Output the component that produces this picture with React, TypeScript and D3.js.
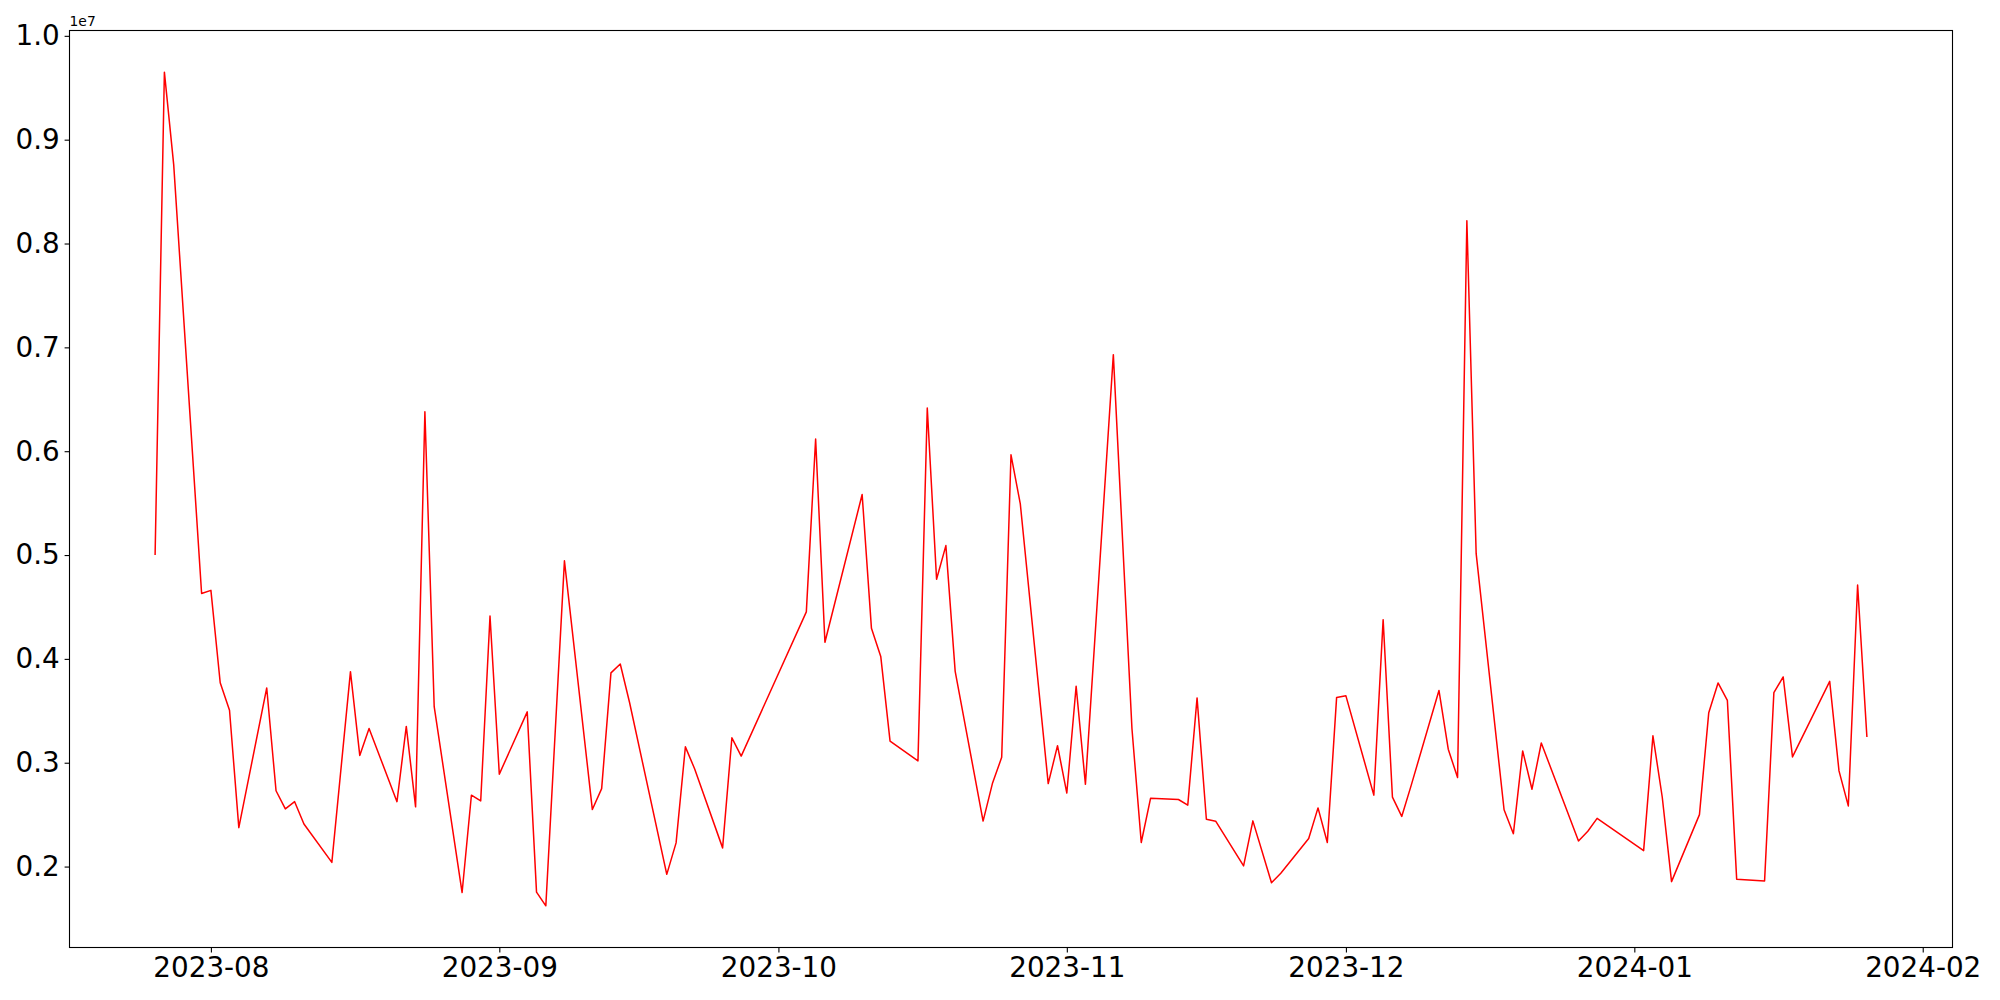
import React, { useEffect, useRef } from 'react';
import * as d3 from 'd3';

const dates = [
  '2023-07-26', '2023-07-27', '2023-07-28', '2023-07-31', '2023-08-01', '2023-08-02', '2023-08-03', '2023-08-04',
  '2023-08-07', '2023-08-08', '2023-08-09', '2023-08-10', '2023-08-11', '2023-08-14', '2023-08-16', '2023-08-17',
  '2023-08-18', '2023-08-21', '2023-08-22', '2023-08-23', '2023-08-24', '2023-08-25', '2023-08-28', '2023-08-29',
  '2023-08-30', '2023-08-31', '2023-09-01', '2023-09-04', '2023-09-05', '2023-09-06', '2023-09-08', '2023-09-11',
  '2023-09-12', '2023-09-13', '2023-09-14', '2023-09-15', '2023-09-19', '2023-09-20', '2023-09-21', '2023-09-22',
  '2023-09-25', '2023-09-26', '2023-09-27', '2023-10-04', '2023-10-05', '2023-10-06', '2023-10-10', '2023-10-11',
  '2023-10-12', '2023-10-13', '2023-10-16', '2023-10-17', '2023-10-18', '2023-10-19', '2023-10-20', '2023-10-23',
  '2023-10-24', '2023-10-25', '2023-10-26', '2023-10-27', '2023-10-30', '2023-10-31', '2023-11-01', '2023-11-02',
  '2023-11-03', '2023-11-06', '2023-11-08', '2023-11-09', '2023-11-10', '2023-11-13', '2023-11-14', '2023-11-15',
  '2023-11-16', '2023-11-17', '2023-11-20', '2023-11-21', '2023-11-23', '2023-11-24', '2023-11-27', '2023-11-28',
  '2023-11-29', '2023-11-30', '2023-12-01', '2023-12-04', '2023-12-05', '2023-12-06', '2023-12-07', '2023-12-08',
  '2023-12-11', '2023-12-12', '2023-12-13', '2023-12-14', '2023-12-15', '2023-12-18', '2023-12-19', '2023-12-20',
  '2023-12-21', '2023-12-22', '2023-12-26', '2023-12-27', '2023-12-28', '2024-01-02', '2024-01-03', '2024-01-04',
  '2024-01-05', '2024-01-08', '2024-01-09', '2024-01-10', '2024-01-11', '2024-01-12', '2024-01-15', '2024-01-16',
  '2024-01-17', '2024-01-18', '2024-01-22', '2024-01-23', '2024-01-24', '2024-01-25', '2024-01-26',
];

// values in millions
const values = [
  5.0, 9.65, 8.76, 4.63, 4.66, 3.77, 3.505, 2.375,
  3.72, 2.73, 2.555, 2.625, 2.41, 2.04, 3.877, 3.07,
  3.33, 2.625, 3.35, 2.575, 6.38, 3.54, 1.75, 2.687,
  2.632, 4.413, 2.89, 3.49, 1.754, 1.622, 4.944, 2.549,
  2.751, 3.865, 3.951, 3.58, 1.925, 2.228, 3.153, 2.94,
  2.18, 3.24, 3.064, 4.453, 6.117, 4.16, 5.583, 4.294,
  4.024, 3.208, 3.018, 6.415, 4.767, 5.091, 3.88, 2.438,
  2.799, 3.052, 5.965, 5.493, 2.799, 3.164, 2.708, 3.737,
  2.792, 6.93, 3.33, 2.232, 2.657, 2.646, 2.592, 3.624,
  2.456, 2.437, 2.007, 2.44, 1.845, 1.935, 2.27, 2.565,
  2.232, 3.629, 3.644, 2.688, 4.378, 2.669, 2.483, 2.777,
  3.696, 3.13, 2.857, 8.22, 5.013, 2.547, 2.317, 3.114,
  2.745, 3.19, 2.247, 2.34, 2.464, 2.153, 3.259, 2.67,
  1.855, 2.5, 3.482, 3.768, 3.601, 1.879, 1.862, 3.675,
  3.826, 3.056, 3.784, 2.921, 2.584, 4.711, 3.248,
];

const yTicks = [0.2, 0.3, 0.4, 0.5, 0.6, 0.7, 0.8, 0.9, 1.0];
const xTickMonths = ['2023-08', '2023-09', '2023-10', '2023-11', '2023-12', '2024-01', '2024-02'];

export default function App() {
  const svgRef = useRef<SVGSVGElement>(null);
  const width = 2000;
  const height = 1000;

  useEffect(() => {
    document.body.style.margin = '0';
    const svg = d3.select(svgRef.current);
    svg.selectAll('*').remove();

    const margin = { top: 30.5, right: 47.5, bottom: 52.5, left: 69.5 };
    const innerWidth = width - margin.left - margin.right;
    const innerHeight = height - margin.top - margin.bottom;

    const parseDate = d3.timeParse('%Y-%m-%d');
    const parseMonth = d3.timeParse('%Y-%m');
    const data = dates.map((d, i) => ({ date: parseDate(d) as Date, value: values[i] * 1e6 }));

    // matplotlib-style 5% margins
    const [x0, x1] = d3.extent(data, d => d.date) as [Date, Date];
    const xPad = (x1.getTime() - x0.getTime()) * 0.05;
    const [y0, y1] = d3.extent(data, d => d.value) as [number, number];
    const yPad = (y1 - y0) * 0.05;

    const xScale = d3.scaleTime()
      .domain([new Date(x0.getTime() - xPad), new Date(x1.getTime() + xPad)])
      .range([0, innerWidth]);

    const yScale = d3.scaleLinear()
      .domain([y0 - yPad, y1 + yPad])
      .range([innerHeight, 0]);

    const g = svg.append('g')
      .attr('transform', `translate(${margin.left},${margin.top})`);

    const line = d3.line<typeof data[0]>()
      .x(d => xScale(d.date))
      .y(d => yScale(d.value));

    g.append('path')
      .datum(data)
      .attr('d', line)
      .style('fill', 'none')
      .style('stroke', '#ff0000')
      .style('stroke-width', 1.5)
      .style('stroke-linejoin', 'round');

    const font = '"DejaVu Sans", sans-serif';

    // X axis
    const xAxis = g.append('g')
      .attr('transform', `translate(0,${innerHeight})`)
      .call(
        d3.axisBottom(xScale)
          .tickValues(xTickMonths.map(m => parseMonth(m) as Date))
          .tickSize(4.9)
          .tickPadding(4.9)
          .tickFormat(d => d3.timeFormat('%Y-%m')(d as Date))
      );
    xAxis.select('.domain').remove();
    xAxis.selectAll('line').style('stroke', '#000').style('stroke-width', 1.1);
    xAxis.selectAll('text')
      .style('font-family', font)
      .style('font-size', '27.8px')
      .style('fill', '#000');

    // Y axis
    const yAxis = g.append('g')
      .call(
        d3.axisLeft(yScale)
          .tickValues(yTicks.map(t => t * 1e7))
          .tickSize(4.9)
          .tickPadding(4.9)
          .tickFormat(d => (Number(d) / 1e7).toFixed(1))
      );
    yAxis.select('.domain').remove();
    yAxis.selectAll('line').style('stroke', '#000').style('stroke-width', 1.1);
    yAxis.selectAll('text')
      .style('font-family', font)
      .style('font-size', '27.8px')
      .style('fill', '#000');

    // Frame
    g.append('rect')
      .attr('x', 0)
      .attr('y', 0)
      .attr('width', innerWidth)
      .attr('height', innerHeight)
      .style('fill', 'none')
      .style('stroke', '#000')
      .style('stroke-width', 1.1);

    // Offset text
    g.append('text')
      .attr('x', 0)
      .attr('y', -5)
      .style('font-family', font)
      .style('font-size', '13.9px')
      .style('fill', '#000')
      .text('1e7');
  }, []);

  return (
    <div>
      <svg ref={svgRef} width={width} height={height} style={{ display: 'block', background: '#fff' }} />
    </div>
  );
}
